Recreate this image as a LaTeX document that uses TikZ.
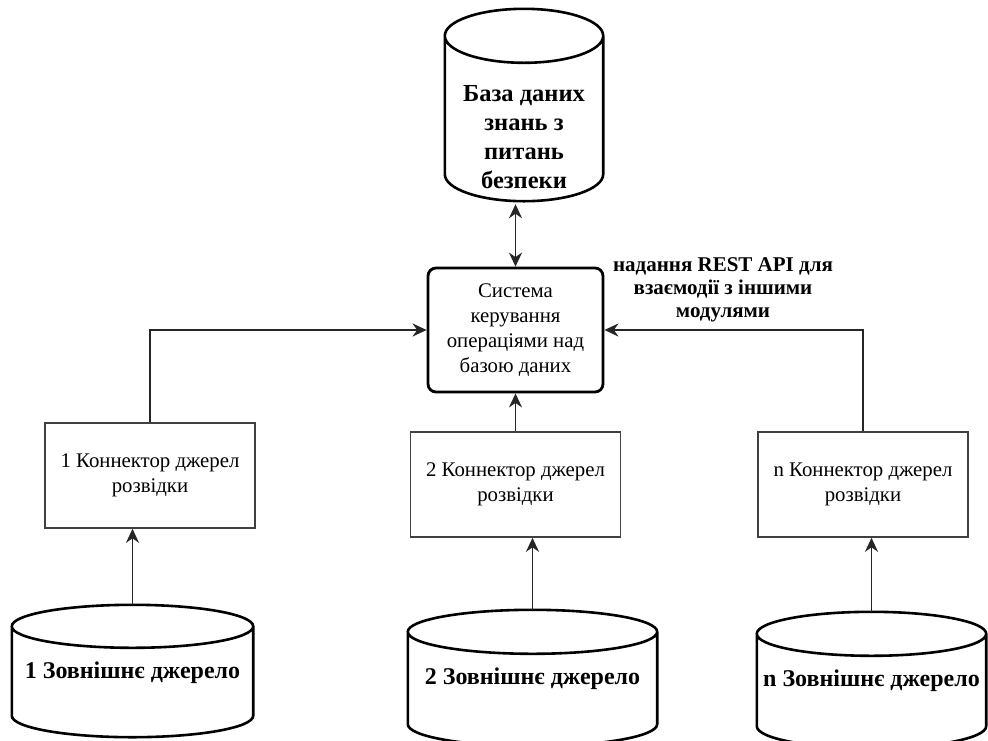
\documentclass[tikz,border=0pt]{standalone}
\usepackage{fontspec}
\setmainfont{Liberation Serif}
\usetikzlibrary{arrows.meta,calc}

% cylinder outline round a node: #1 node, #2 cap radius, #3 lift of the bottom cap centre over south
\newcommand\dbcyl[3]{%
  \draw[cylline] let \p1=(#1.west), \p2=(#1.east), \n1={(\x2-\x1)/2} in
    ([yshift=#2]#1.north west) -- ([yshift=#3]#1.south west)
    arc[start angle=180, end angle=360, x radius=\n1, y radius=#2pt]
    -- ([yshift=#2]#1.north east)
    ([yshift=#2]#1.north) ellipse [x radius=\n1, y radius=#2pt];
  \coordinate (#1-top) at ([yshift=2*#2]#1.north);
  \coordinate (#1-bot) at ([yshift=#3-#2]#1.south);
}

\begin{document}
\begin{tikzpicture}[x=1pt,y=1pt,
    conn/.style={draw=black!85, line width=1.9pt, -{Stealth[length=14pt,width=13pt,inset=4.5pt]}},
    cylline/.style={draw=black, line width=2.6pt},
    dbnode/.style={inner sep=0pt, align=center, font=\bfseries\fontsize{24.5}{29}\selectfont},
    srcnode/.style={inner sep=0pt, minimum height=50, font=\bfseries\fontsize{24}{25}\selectfont},
    linkbox/.style={draw=black!75, line width=1.6pt, minimum width=210, minimum height=105,
      align=center, font=\fontsize{20.8}{25}\selectfont},
    ctrlbox/.style={draw=black, line width=2.8pt, rounded corners=8pt, minimum width=175,
      minimum height=124, align=center, font=\fontsize{20.8}{25}\selectfont}]
  \useasboundingbox (0,0) rectangle (988,-740);

  % knowledge base
  \node[dbnode, minimum width=158, minimum height=148] (kb) at (524,-137)
    {База даних\\знань з\\питань\\безпеки};
  \dbcyl{kb}{27}{37}

  % control system
  \node[ctrlbox] (ctrl) at (515.5,-330)
    {Система\\керування\\операціями над\\базою даних};
  \node[align=center, font=\bfseries\fontsize{21}{23}\selectfont] (api) at (723,-290)
    {надання REST API для\\взаємодії з іншими\\модулями};

  % connectors
  \node[linkbox] (box1) at (150,-475.5) {1 Коннектор джерел\\розвідки};
  \node[linkbox] (box2) at (515.5,-484.5) {2 Коннектор джерел\\розвідки};
  \node[linkbox] (boxn) at (863,-484.5) {n Коннектор джерел\\розвідки};

  % external sources
  \node[srcnode, minimum width=241] (src1) at (132.5,-673) {1 Зовнішнє джерело};
  \dbcyl{src1}{21.5}{-17.5}
  \node[srcnode, minimum width=249] (src2) at (532.5,-679) {2 Зовнішнє джерело};
  \dbcyl{src2}{22}{-20}
  \node[srcnode, minimum width=229] (srcn) at (871.5,-681) {n Зовнішнє джерело};
  \dbcyl{srcn}{22}{-20}

  \draw[conn, {Stealth[length=14pt,width=13pt,inset=4.5pt]}-{Stealth[length=14pt,width=13pt,inset=4.5pt]}, shorten >=3pt]
    (ctrl.north) -- (ctrl.north |- kb-bot);
  \draw[conn] (box1.north) |- (ctrl.west);
  \draw[conn] (box2.north) -- (ctrl.south);
  \draw[conn] (boxn.north) |- (ctrl.east);
  \draw[conn] (src1-top) -- (src1-top |- box1.south);
  \draw[conn] (src2-top) -- (src2-top |- box2.south);
  \draw[conn] (srcn-top) -- (srcn-top |- boxn.south);
\end{tikzpicture}
\end{document}
